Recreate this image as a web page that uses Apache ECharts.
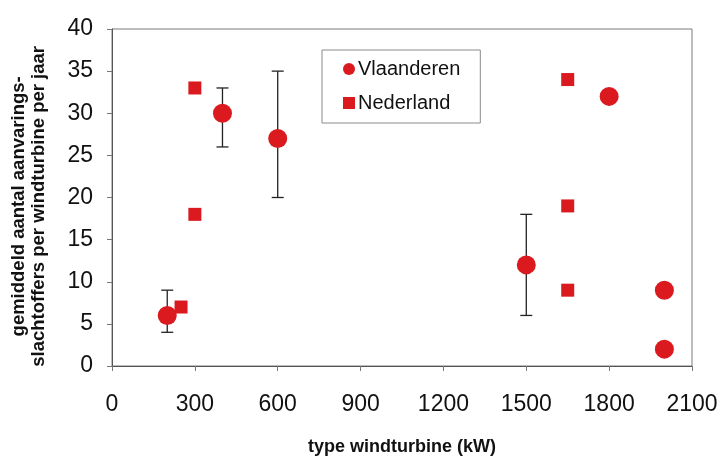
<!DOCTYPE html>
<html>
<head>
<meta charset="utf-8">
<script src="https://cdn.jsdelivr.net/npm/echarts@6/dist/echarts.min.js"></script>
<style>
  html, body { margin: 0; padding: 0; background: #fff; }
  #chart { width: 723px; height: 456px; }
</style>
</head>
<body>
<div id="chart"></div>
<script>
// Turbine capacity (kW) and mean collision victims per turbine per year
const vlX = [200, 400, 600, 1500, 1800, 2000, 2000];
const vlY = [6, 30, 27, 12, 32, 9, 2];
// Error bar ranges for Vlaanderen (null where no range is given)
const vlLow = [4, 26, 20, 6, null, null, null];
const vlHigh = [9, 33, 35, 18, null, null, null];

const nlX = [250, 300, 300, 1650, 1650, 1650];
const nlY = [7, 33, 18, 34, 19, 9];

const xTicks = [0, 300, 600, 900, 1200, 1500, 1800, 2100];
const yTicks = [0, 5, 10, 15, 20, 25, 30, 35, 40];

const RED = '#da1a1f';
const FONT = '"Liberation Sans", Arial, sans-serif';

const vlData = vlX.map((x, i) => [x, vlY[i]]);
const nlData = nlX.map((x, i) => [x, nlY[i]]);
const errData = [];
vlX.forEach((x, i) => {
  if (vlLow[i] != null) errData.push([x, vlLow[i], vlHigh[i]]);
});

const chart = echarts.init(document.getElementById('chart'));
chart.setOption({
  animation: false,
  backgroundColor: '#fff',
  grid: {
    left: 112, right: 31, top: 29, bottom: 90,
    outerBoundsMode: 'none',
    containLabel: false,
    show: true, borderColor: '#7a7a7a', borderWidth: 1
  },
  graphic: [
    {
      type: 'text',
      left: 9, top: 46,
      rotation: Math.PI / 2,
      style: {
        text: 'gemiddeld aantal aanvarings-\nslachtoffers per windturbine per jaar',
        font: 'bold 18.5px ' + FONT,
        fill: '#111',
        textAlign: 'center',
        lineHeight: 20
      }
    }
  ],
  legend: {
    left: 322, top: 50,
    orient: 'vertical',
    backgroundColor: '#fff',
    borderColor: '#8a8a8a', borderWidth: 1,
    padding: [9, 20, 10, 21],
    itemGap: 14,
    itemWidth: 12, itemHeight: 12,
    textStyle: { fontFamily: FONT, fontSize: 20, color: '#111', padding: [0, 0, 0, -2] },
    data: [
      { name: 'Vlaanderen', icon: 'circle' },
      { name: 'Nederland', icon: 'rect' }
    ]
  },
  xAxis: {
    type: 'value',
    min: xTicks[0], max: xTicks[xTicks.length - 1], interval: 300,
    name: 'type windturbine (kW)',
    nameLocation: 'middle', nameGap: 72,
    nameTextStyle: { fontFamily: FONT, fontSize: 18, fontWeight: 'bold', color: '#111' },
    axisLine: { show: true, lineStyle: { color: '#555', width: 1 } },
    axisTick: { show: true, inside: false, length: 5, lineStyle: { color: '#777' } },
    axisLabel: { fontFamily: FONT, fontSize: 23, color: '#111', margin: 27, formatter: v => String(v) },
    splitLine: { show: false }
  },
  yAxis: {
    type: 'value',
    min: yTicks[0], max: yTicks[yTicks.length - 1], interval: 5,
    axisLine: { show: true, lineStyle: { color: '#555', width: 1 } },
    axisTick: { show: true, inside: false, length: 5, lineStyle: { color: '#777' } },
    axisLabel: { fontFamily: FONT, fontSize: 23, color: '#111', margin: 19, formatter: v => String(v) },
    splitLine: { show: false }
  },
  series: [
    {
      name: 'errorbars',
      type: 'custom',
      z: 1,
      data: errData,
      renderItem: function (params, api) {
        const x = api.value(0);
        const lo = api.coord([x, api.value(1)]);
        const hi = api.coord([x, api.value(2)]);
        const cap = 6;
        const style = { stroke: '#222', lineWidth: 1.3 };
        return {
          type: 'group',
          children: [
            { type: 'line', shape: { x1: lo[0], y1: lo[1], x2: hi[0], y2: hi[1] }, style: style },
            { type: 'line', shape: { x1: lo[0] - cap, y1: lo[1], x2: lo[0] + cap, y2: lo[1] }, style: style },
            { type: 'line', shape: { x1: hi[0] - cap, y1: hi[1], x2: hi[0] + cap, y2: hi[1] }, style: style }
          ]
        };
      }
    },
    {
      name: 'Vlaanderen',
      type: 'scatter',
      z: 3,
      symbol: 'circle',
      symbolSize: 19,
      itemStyle: { color: RED, opacity: 1 },
      data: vlData
    },
    {
      name: 'Nederland',
      type: 'scatter',
      z: 3,
      symbol: 'rect',
      symbolSize: 13,
      itemStyle: { color: RED, opacity: 1 },
      data: nlData
    }
  ]
});
</script>
</body>
</html>
